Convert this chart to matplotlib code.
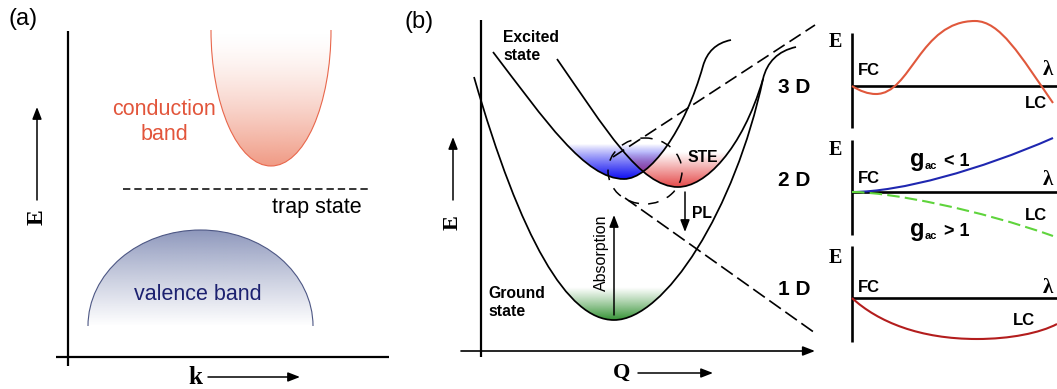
import numpy as np
import matplotlib
matplotlib.use("Agg")
import matplotlib.pyplot as plt
from matplotlib.path import Path
from matplotlib.patches import PathPatch, Ellipse
from matplotlib.transforms import Affine2D
from matplotlib.colors import to_rgb

# Everything is laid out in pixel units of the 1057 x 389 reference, y grows downwards.
W, H = 1057, 389

# ---------------- panel (a): bands ----------------
conduction_center, conduction_radii = (271, 30), (60, 136)     # half ellipse opening upwards
valence_center, valence_radii = (200.5, 326), (112.5, 96)      # half ellipse dome
trap_line = [(123, 189), (368, 189)]

# ---------------- panel (b): configuration coordinate ----------------
# cubic bezier nodes: anchor, handle, handle, anchor, ...
ground_state = [(474, 77), (520.7, 239), (567.3, 320), (614, 320), (665, 320), (735, 210),
                (763, 79), (767, 62), (778, 51), (796, 47)]
free_exciton = [(493, 52), (545, 120), (585, 179), (624, 179), (650, 179), (685, 130),
                (703, 66), (707, 52), (716, 43), (731, 40)]
ste_state = [(557, 59), (605, 128), (640, 187), (678, 187), (705, 187), (742, 150), (763, 79)]
dash_up = [(613, 157), (815, 25)]
dash_down = [(625, 198), (815, 333)]
barrier_ring = (645, 171, 74, 66)           # centre x, centre y, width, height
fill_levels = {"blue": (144, 180), "red": (152, 188), "green": (287, 321)}

# ---------------- panel (c): energy vs lambda ----------------
curve_3d = [(852, 86), (860, 91), (868, 94), (876, 94), (911, 94), (920, 21), (975, 21),
            (1000, 21), (1020, 55), (1053, 103)]
curve_2d_lo = [(852, 192), (900, 192), (980, 170), (1053, 138)]
curve_2d_hi = [(852, 192), (890, 192), (980, 210), (1053, 236)]
curve_1d = [(852, 298), (878, 322), (920, 339), (977, 339), (1010, 339), (1040, 333), (1057, 324)]
sub_axes_y = [86, 192, 298]
sub_axes_span = [(33, 128), (140, 235), (246, 342)]

SANS = ["Liberation Sans", "DejaVu Sans"]
SERIF = ["Liberation Serif", "DejaVu Serif"]
plt.rcParams["font.family"] = SANS

CB_RED = "#e2553b"
VB_NAVY = "#1c2170"


def bez(nodes, close=False):
    verts = [tuple(p) for p in nodes]
    codes = [Path.MOVETO] + [Path.CURVE4] * (len(verts) - 1)
    if close:
        verts.append(verts[0])
        codes.append(Path.CLOSEPOLY)
    return Path(verts, codes)


def half_ellipse(center, radii, up=False):
    arc = Path.arc(0, 180)
    sy = -radii[1] if up else radii[1]
    return arc.transformed(Affine2D().scale(radii[0], sy).translate(*center))


def closed(path):
    verts = np.vstack([path.vertices, path.vertices[:1]])
    codes = list(path.codes) + [Path.CLOSEPOLY]
    return Path(verts, codes)


def draw(ax, path, color="k", lw=1.25, ls="-", z=3):
    ax.add_patch(PathPatch(path, fill=False, ec=color, lw=lw, ls=ls, capstyle="butt", zorder=z))


def gradient(ax, path, y_top, y_bot, color, a_top, a_bot, gamma=1.0):
    shape = closed(path)
    xs = shape.vertices[:, 0]
    t = np.linspace(0, 1, 256) ** gamma
    img = np.zeros((256, 1, 4))
    img[..., :3] = to_rgb(color)
    img[:, 0, 3] = a_top + (a_bot - a_top) * t
    im = ax.imshow(img, extent=(xs.min(), xs.max(), y_bot, y_top), origin="upper",
                   aspect="auto", interpolation="bilinear", zorder=1)
    clip = PathPatch(shape, fc="none", ec="none", transform=ax.transData)
    ax.add_patch(clip)
    im.set_clip_path(clip)


def arrow(ax, start, end, lw=1.1, scale=8):
    ax.annotate("", xy=end, xytext=start,
                arrowprops=dict(arrowstyle="-|>,head_length=0.9,head_width=0.35", color="k",
                                lw=lw, mutation_scale=scale, shrinkA=0, shrinkB=0))


def line(ax, pts, lw=1.5, ls="-", color="k", z=2):
    p = np.asarray(pts)
    ax.plot(p[:, 0], p[:, 1], color=color, lw=lw, ls=ls, solid_capstyle="butt", zorder=z)


fig = plt.figure(figsize=(W / 100, H / 100), dpi=100)
ax = fig.add_axes([0, 0, 1, 1])
ax.axis("off")

# ---- (a) ----
ax.text(8, 8, "(a)", fontsize=17, va="top", ha="left")
line(ax, [(68, 31), (68, 366)], lw=1.6)
line(ax, [(56, 357), (389, 357)], lw=1.6)
arrow(ax, (37, 200), (37, 107))
arrow(ax, (208, 377), (300, 377))
ax.text(37, 217, "E", family=SERIF, weight="bold", fontsize=17, rotation=90, ha="center", va="center")
ax.text(195, 377, "k", family=SERIF, weight="bold", fontsize=18, ha="center", va="center")

cb = half_ellipse(conduction_center, conduction_radii)
vb = half_ellipse(valence_center, valence_radii, up=True)
gradient(ax, cb, conduction_center[1], conduction_center[1] + conduction_radii[1],
         "#f09a84", 0.0, 1.0, gamma=1.5)
draw(ax, cb, color="#e8674c", lw=0.8)
gradient(ax, vb, valence_center[1] - valence_radii[1], valence_center[1],
         "#8c96bb", 1.0, 0.0, gamma=0.9)
draw(ax, vb, color="#4d5784", lw=0.8)
line(ax, trap_line, lw=1.1, ls=(0, (4.8, 2.6)))

ax.text(164, 115, "conduction", color=CB_RED, fontsize=15.5, ha="center", va="baseline")
ax.text(164, 140, "band", color=CB_RED, fontsize=15.5, ha="center", va="baseline")
ax.text(317, 213, "trap state", fontsize=15.5, ha="center", va="baseline")
ax.text(198, 300, "valence band", color=VB_NAVY, fontsize=15.5, ha="center", va="baseline")

# ---- (b) ----
ax.text(404, 11, "(b)", fontsize=17, va="top", ha="left")
line(ax, [(481, 20), (481, 357)], lw=1.6)
arrow(ax, (461, 351), (815, 351), lw=1.2)
arrow(ax, (453, 200), (453, 137))
arrow(ax, (638, 373), (713, 373))
ax.text(453, 223, "E", family=SERIF, weight="bold", fontsize=16, rotation=90, ha="center", va="center")
ax.text(622, 373, "Q", family=SERIF, weight="bold", fontsize=16, ha="center", va="center")

g_path, b_path, r_path = bez(ground_state), bez(free_exciton), bez(ste_state)
gradient(ax, b_path, *fill_levels["blue"], "#0808f0", 0.0, 1.0, gamma=0.85)
gradient(ax, r_path, *fill_levels["red"], "#e23a3a", 0.0, 0.95, gamma=1.0)
gradient(ax, g_path, *fill_levels["green"], "#2f8f2f", 0.0, 1.0, gamma=1.1)
for p in (g_path, b_path, r_path):
    draw(ax, p)
line(ax, dash_up, lw=1.2, ls=(0, (8, 3.5)))
line(ax, dash_down, lw=1.2, ls=(0, (8.5, 3.3)))
cx, cy, ew, eh = barrier_ring
ax.add_patch(Ellipse((cx, cy), ew, eh, fill=False, ec="k", lw=1.1, ls=(2, (7, 6)), zorder=3))

arrow(ax, (614, 315), (614, 215), lw=1.1)
arrow(ax, (685, 192), (685, 232), lw=1.1)
ax.text(601, 253, "Absorption", fontsize=11.5, rotation=90, ha="center", va="center")

bold_labels = [("Excited", 503, 42), ("state", 503, 60), ("Ground", 488, 298), ("state", 488, 316),
               ("STE", 688, 162), ("PL", 692, 218)]
for s, x, y in bold_labels:
    ax.text(x, y, s, fontsize=11.3, weight="bold", ha="left", va="baseline")
for s, y in [("3 D", 93), ("2 D", 186), ("1 D", 295)]:
    ax.text(778, y, s, fontsize=15, weight="bold", ha="left", va="baseline")

# ---- (c) ----
for yax, (y0, y1) in zip(sub_axes_y, sub_axes_span):
    line(ax, [(852, y0), (852, y1)], lw=1.9)
    line(ax, [(852, yax), (W, yax)], lw=1.9)

draw(ax, bez(curve_3d), color="#e0583c", lw=1.5)
draw(ax, bez(curve_2d_lo), color="#1f27b0", lw=1.5)
draw(ax, bez(curve_2d_hi), color="#5fd43c", lw=1.5, ls=(0, (6, 2.5)), z=4)
draw(ax, bez(curve_1d), color="#b31d1d", lw=1.5)

for ybase in [47, 155, 263]:
    ax.text(829, ybase, "E", family=SERIF, weight="bold", fontsize=14.5, ha="left", va="baseline")
for ybase in [75, 183, 292]:
    ax.text(858, ybase, "FC", fontsize=12, weight="bold", ha="left", va="baseline")
for ybase in [75, 185, 293]:
    ax.text(1043, ybase, "λ", family=SERIF, weight="bold", fontsize=15, ha="left", va="baseline")
for x, ybase in [(1025, 108), (1025, 220), (1013, 325)]:
    ax.text(x, ybase, "LC", fontsize=12, weight="bold", ha="left", va="baseline")

for ybase, sign in [(166, "<"), (236, ">")]:
    ax.text(910, ybase, "g", fontsize=17, weight="bold", ha="left", va="baseline")
    ax.text(925, ybase + 3, "ac", fontsize=8, weight="bold", ha="left", va="baseline")
    ax.text(944, ybase, sign + " 1", fontsize=13, weight="bold", ha="left", va="baseline")

ax.set_xlim(0, W)
ax.set_ylim(H, 0)
fig.savefig("out.png", dpi=100)
